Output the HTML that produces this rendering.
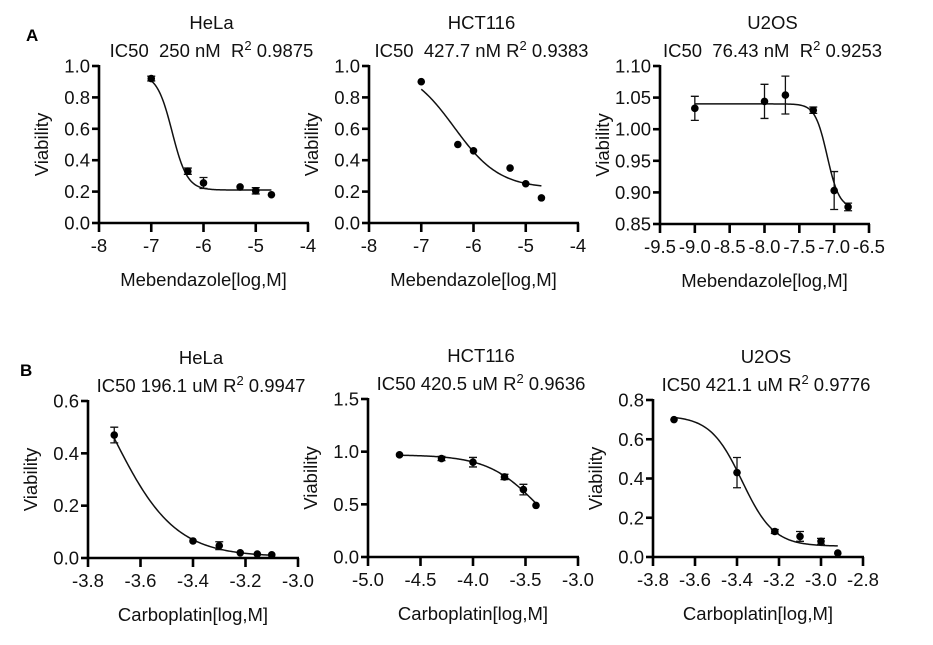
<!DOCTYPE html>
<html><head><meta charset="utf-8"><style>
body{margin:0;background:#fff;}
svg{display:block;font-family:"Liberation Sans",Arial,sans-serif;}
text{white-space:pre;}
</style></head><body>
<svg id="c" width="933" height="645" viewBox="0 0 933 645" xml:space="preserve">
<text x="26" y="41" font-size="17" font-weight="bold">A</text>
<text x="20" y="376" font-size="17" font-weight="bold">B</text>
</svg>
<script>
// Panel data arrays
const a1X=[-7,-6.3,-6,-5.3,-5,-4.7];
const a1Y=[0.92,0.33,0.255,0.23,0.205,0.18];
const a1E=[0.015,0.02,0.035,0,0.02,0];
const a1Fit=[0.95,0.21,-6.6,3]; // top,bottom,logIC50,hill
const a2X=[-7,-6.3,-6,-5.3,-5,-4.7];
const a2Y=[0.90,0.50,0.46,0.35,0.25,0.16];
const a2E=[0,0,0,0,0,0];
const a2Fit=[1.0,0.22,-6.37,1];
const a3X=[-9,-8,-7.7,-7.3,-7,-6.8];
const a3Y=[1.033,1.044,1.054,1.030,0.903,0.877];
const a3E=[0.019,0.027,0.03,0.005,0.03,0.006];
const a3Fit=[1.04,0.875,-7.1,5];
const b1X=[-3.7,-3.4,-3.3,-3.22,-3.155,-3.1];
const b1Y=[0.47,0.065,0.047,0.02,0.015,0.012];
const b1E=[0.03,0,0.015,0,0,0];
const b1Fit=[0.95,0.005,-3.71,3.65];
const b2X=[-4.7,-4.3,-4,-3.7,-3.52,-3.4];
const b2Y=[0.97,0.935,0.90,0.76,0.64,0.49];
const b2E=[0,0.02,0.045,0.025,0.05,0];
const b2Fit=[0.97,0,-3.376,1.8];
const b3X=[-3.7,-3.4,-3.22,-3.1,-3.0,-2.92];
const b3Y=[0.70,0.43,0.13,0.105,0.08,0.02];
const b3E=[0,0.077,0.01,0.025,0.015,0];
const b3Fit=[0.72,0.055,-3.376,5.75];
const a1XT=["-8","-7","-6","-5","-4"], a1YT=["0.0","0.2","0.4","0.6","0.8","1.0"];
const a3XT=["-9.5","-9.0","-8.5","-8.0","-7.5","-7.0","-6.5"], a3YT=["0.85","0.90","0.95","1.00","1.05","1.10"];
const b1XT=["-3.8","-3.6","-3.4","-3.2","-3.0"], b1YT=["0.0","0.2","0.4","0.6"];
const b2XT=["-5.0","-4.5","-4.0","-3.5","-3.0"], b2YT=["0.0","0.5","1.0","1.5"];
const b3XT=["-3.8","-3.6","-3.4","-3.2","-3.0","-2.8"], b3YT=["0.0","0.2","0.4","0.6","0.8"];

const panels=[
 {id:"a1",cell:"HeLa",ic:"IC50  250 nM  R",r2:" 0.9875",xt:a1XT,yt:a1YT,X:a1X,Y:a1Y,E:a1E,F:a1Fit,x0:99,x1:308,yT:66,yB:223,tx:"Mebendazole[log,M]"},
 {id:"a2",cell:"HCT116",ic:"IC50  427.7 nM R",r2:" 0.9383",xt:a1XT,yt:a1YT,X:a2X,Y:a2Y,E:a2E,F:a2Fit,x0:369,x1:578,yT:66,yB:223,tx:"Mebendazole[log,M]"},
 {id:"a3",cell:"U2OS",ic:"IC50  76.43 nM  R",r2:" 0.9253",xt:a3XT,yt:a3YT,X:a3X,Y:a3Y,E:a3E,F:a3Fit,x0:660,x1:869,yT:66,yB:224,tx:"Mebendazole[log,M]"},
 {id:"b1",cell:"HeLa",ic:"IC50 196.1 uM R",r2:" 0.9947",xt:b1XT,yt:b1YT,X:b1X,Y:b1Y,E:b1E,F:b1Fit,x0:88,x1:298,yT:401,yB:558,tx:"Carboplatin[log,M]"},
 {id:"b2",cell:"HCT116",ic:"IC50 420.5 uM R",r2:" 0.9636",xt:b2XT,yt:b2YT,X:b2X,Y:b2Y,E:b2E,F:b2Fit,x0:368,x1:578,yT:399,yB:557,tx:"Carboplatin[log,M]"},
 {id:"b3",cell:"U2OS",ic:"IC50 421.1 uM R",r2:" 0.9776",xt:b3XT,yt:b3YT,X:b3X,Y:b3Y,E:b3E,F:b3Fit,x0:653,x1:863,yT:400,yB:557,tx:"Carboplatin[log,M]"}
];
const FS=18.5;
const svg=document.getElementById('c');
const NS="http://www.w3.org/2000/svg";
function mk(tag,attrs,parent){const e=document.createElementNS(NS,tag);for(const k in attrs)e.setAttribute(k,attrs[k]);parent.appendChild(e);return e;}
panels.forEach(p=>{
 const g=mk('g',{},svg);
 
 
 const xmin=+p.xt[0],xmax=+p.xt[p.xt.length-1],ymin=+p.yt[0],ymax=+p.yt[p.yt.length-1];
 const sx=v=>p.x0+(v-xmin)/(xmax-xmin)*(p.x1-p.x0);
 const sy=v=>p.yB-(v-ymin)/(ymax-ymin)*(p.yB-p.yT);
 const cx=(p.x0+p.x1)/2+8;
 const t1=mk('text',{x:cx,y:p.yT-37,'font-size':FS,'text-anchor':'middle',fill:'#111'},g);t1.textContent=p.cell;
 
 
 const t2=mk('text',{x:cx,y:p.yT-9,'font-size':FS,'text-anchor':'middle',fill:'#111'},g);
 
 
 const s1=mk('tspan',{},t2);s1.textContent=p.ic;
 const s2=mk('tspan',{dy:-7,'font-size':13},t2);s2.textContent="2";
 const s3=mk('tspan',{dy:7},t2);s3.textContent=p.r2;
 const ya=mk('line',{x1:p.x0,y1:p.yT-1,x2:p.x0,y2:p.yB+1,stroke:'#000','stroke-width':2.6},g);
 
 
 const xa=mk('line',{x1:p.x0-1,y1:p.yB,x2:p.x1+1,y2:p.yB,stroke:'#000','stroke-width':2.6},g);
 
 
 p.yt.forEach(l=>{const y=sy(+l);
  mk('line',{x1:p.x0-7,y1:y,x2:p.x0,y2:y,stroke:'#000','stroke-width':2.6},g);
  const t=mk('text',{x:p.x0-9,y:y+6.5,'font-size':FS,'text-anchor':'end',fill:'#111'},g);t.textContent=l;
  
  });
 p.xt.forEach(l=>{const x=sx(+l);
  mk('line',{x1:x,y1:p.yB,x2:x,y2:p.yB+9,stroke:'#000','stroke-width':2.6},g);
  const t=mk('text',{x:x,y:p.yB+29,'font-size':FS,'text-anchor':'middle',fill:'#111'},g);t.textContent=l;
  
  });
 const xt=mk('text',{x:(p.x0+p.x1)/2,y:p.yB+63,'font-size':FS,'text-anchor':'middle',fill:'#111'},g);xt.textContent=p.tx;
 
 
 const ymid=(p.yT+p.yB)/2;
 const yt=mk('text',{x:p.x0-51,y:ymid,'font-size':FS,'text-anchor':'middle',fill:'#111',transform:`rotate(-90 ${p.x0-51} ${ymid})`},g);yt.textContent="Viability";
 
 
 const [top,bot,lic,h]=p.F;const xs=p.X[0],xe=p.X[p.X.length-1];let d="";
 for(let i=0;i<=120;i++){const x=xs+(xe-xs)*i/120;const y=bot+(top-bot)/(1+Math.pow(10,(x-lic)*h));d+=(i?"L":"M")+sx(x).toFixed(2)+","+sy(y).toFixed(2);}
 const cv=mk('path',{d:d,fill:'none',stroke:'#111','stroke-width':1.5},g);
 
 
 p.X.forEach((x,i)=>{const px=sx(x),py=sy(p.Y[i]),e=p.E[i];
  if(e>0){const ya2=sy(p.Y[i]+e),yb2=sy(p.Y[i]-e);
   mk('path',{d:`M${px},${ya2}L${px},${yb2}M${px-4},${ya2}L${px+4},${ya2}M${px-4},${yb2}L${px+4},${yb2}`,stroke:'#111','stroke-width':1.3,fill:'none'},g);}
  const c=mk('circle',{cx:px,cy:py,r:3.8,fill:'#000'},g);
  
  });
});
</script>
</body></html>
